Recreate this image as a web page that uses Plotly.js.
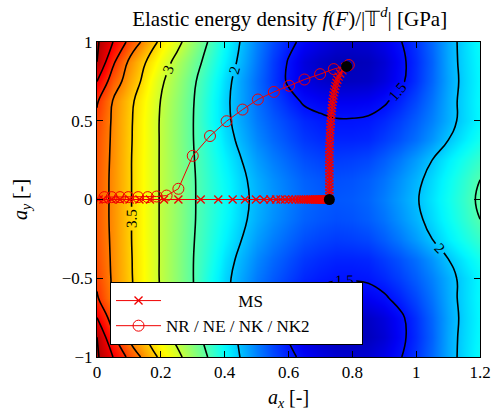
<!DOCTYPE html>
<html>
<head>
<meta charset="utf-8">
<script src="https://cdn.plot.ly/plotly-3.0.1.min.js"></script>
<style>html,body{margin:0;padding:0;background:#fff;}#chart{width:491px;height:415px;}</style>
</head>
<body>
<div id="chart"></div>
<script>
// grid of the energy field
const gridX = [0,0.05,0.10,0.15,0.20,0.25,0.30,0.35,0.40,0.45,0.50,0.55,0.60,0.65,0.70,0.75,0.80,0.85,0.90,0.95,1.00,1.05,1.10,1.15,1.20];
const gridY = [-1,-0.875,-0.75,-0.625,-0.5,-0.375,-0.25,-0.125,0,0.125,0.25,0.375,0.5,0.625,0.75,0.875,1];
const energy = [
 [5.57,5.00,4.39,3.86,3.40,3.11,2.78,2.48,2.21,1.99,1.80,1.65,1.54,1.46,1.41,1.37,1.36,1.37,1.42,1.49,1.59,1.73,1.91,2.07,2.21],
 [5.50,4.59,3.94,3.52,3.20,2.90,2.64,2.39,2.15,1.95,1.77,1.61,1.49,1.39,1.34,1.31,1.31,1.32,1.37,1.46,1.57,1.71,1.91,2.06,2.19],
 [5.00,4.26,3.79,3.39,3.05,2.81,2.55,2.32,2.08,1.90,1.74,1.60,1.48,1.40,1.36,1.33,1.33,1.34,1.39,1.47,1.58,1.72,1.90,2.05,2.18],
 [4.55,3.98,3.60,3.29,2.99,2.76,2.52,2.28,2.05,1.90,1.75,1.64,1.55,1.48,1.45,1.43,1.43,1.44,1.48,1.55,1.64,1.76,1.92,2.06,2.19],
 [4.40,3.94,3.57,3.26,2.97,2.74,2.51,2.27,2.06,1.91,1.78,1.69,1.62,1.56,1.53,1.51,1.51,1.52,1.56,1.62,1.70,1.80,1.93,2.06,2.18],
 [4.33,3.93,3.56,3.26,2.97,2.74,2.51,2.31,2.10,1.95,1.82,1.73,1.66,1.60,1.57,1.55,1.55,1.56,1.61,1.67,1.75,1.86,2.00,2.13,2.26],
 [4.29,3.92,3.55,3.25,2.97,2.75,2.52,2.34,2.16,2.01,1.88,1.79,1.72,1.66,1.63,1.61,1.62,1.64,1.70,1.78,1.88,2.00,2.14,2.27,2.39],
 [4.27,3.91,3.55,3.25,2.97,2.76,2.53,2.36,2.20,2.05,1.93,1.84,1.77,1.71,1.68,1.66,1.67,1.70,1.76,1.85,1.95,2.07,2.21,2.35,2.50],
 [4.27,3.91,3.55,3.25,2.97,2.76,2.53,2.37,2.22,2.06,1.95,1.86,1.79,1.73,1.70,1.68,1.69,1.72,1.79,1.88,1.98,2.10,2.24,2.38,2.55],
 [4.27,3.91,3.55,3.25,2.97,2.76,2.53,2.36,2.20,2.05,1.93,1.84,1.77,1.71,1.68,1.66,1.67,1.70,1.76,1.85,1.95,2.07,2.21,2.35,2.50],
 [4.29,3.92,3.55,3.25,2.97,2.75,2.52,2.34,2.16,2.01,1.88,1.79,1.72,1.66,1.63,1.61,1.62,1.64,1.70,1.78,1.88,2.00,2.14,2.27,2.39],
 [4.33,3.93,3.56,3.26,2.97,2.74,2.51,2.31,2.10,1.95,1.82,1.73,1.66,1.60,1.57,1.55,1.55,1.56,1.61,1.67,1.75,1.86,2.00,2.13,2.26],
 [4.40,3.94,3.57,3.26,2.97,2.74,2.51,2.27,2.06,1.91,1.78,1.69,1.62,1.56,1.53,1.51,1.51,1.52,1.56,1.62,1.70,1.80,1.93,2.06,2.18],
 [4.55,3.98,3.60,3.29,2.99,2.76,2.52,2.28,2.05,1.90,1.75,1.64,1.55,1.48,1.45,1.43,1.43,1.44,1.48,1.55,1.64,1.76,1.92,2.06,2.19],
 [5.00,4.26,3.79,3.39,3.05,2.81,2.55,2.32,2.08,1.90,1.74,1.60,1.48,1.40,1.36,1.33,1.33,1.34,1.39,1.47,1.58,1.72,1.90,2.05,2.18],
 [5.50,4.59,3.94,3.52,3.20,2.90,2.64,2.39,2.15,1.95,1.77,1.61,1.49,1.39,1.34,1.31,1.31,1.32,1.37,1.46,1.57,1.71,1.91,2.06,2.19],
 [5.57,5.00,4.39,3.86,3.40,3.11,2.78,2.48,2.21,1.99,1.80,1.65,1.54,1.46,1.41,1.37,1.36,1.37,1.42,1.49,1.59,1.73,1.91,2.07,2.21]
];

// MS iterates
const msX = [0.005,0.02,0.046,0.072,0.102,0.133,0.166,0.210,0.255,0.325,0.380,0.425,0.464,0.498,0.523,0.543,0.561,0.575,0.589,0.601,0.612,0.622,0.632,0.640,0.648,0.655,0.661,0.667,0.672,0.678,0.683,0.687,0.691,0.695,0.698,0.701,0.704,0.707,0.709,0.711,0.713,0.715,0.717,0.720,0.721,0.723,0.724,0.725,0.726,0.727,0.728,
  0.728,0.728,0.728,0.728,0.728,0.728,0.728,0.728,0.728,0.728,0.728,0.728,0.728,0.728,0.728,0.728,0.729,0.729,0.729,0.730,0.730,0.731,0.731,0.732,0.733,0.733,0.734,0.735,0.736,0.737,0.738,0.740,0.741,0.743,0.745,0.747,0.750,0.753,0.757,0.762,0.769,0.778,0.782];
const msY = [0,0,0,0,0,0,0,0,0,0,0,0,0,0,0,0,0,0,0,0,0,0,0,0,0,0,0,0,0,0,0,0,0,0,0,0,0,0,0,0,0,0,0,0,0,0,0,0,0,0,0,
  0.02,0.04,0.06,0.08,0.10,0.12,0.14,0.16,0.18,0.20,0.22,0.24,0.26,0.28,0.30,0.32,0.34,0.36,0.38,0.40,0.42,0.44,0.46,0.48,0.50,0.52,0.54,0.56,0.58,0.60,0.62,0.64,0.66,0.68,0.70,0.72,0.74,0.76,0.78,0.80,0.82,0.84,0.845];

// NR / NE / NK / NK2 iterates
const nrX = [0.023,0.046,0.072,0.098,0.129,0.159,0.187,0.218,0.255,0.300,0.354,0.406,0.456,0.504,0.554,0.602,0.650,0.699,0.742,0.789];
const nrY = [0.015,0.015,0.015,0.015,0.015,0.015,0.019,0.025,0.068,0.277,0.403,0.497,0.571,0.635,0.683,0.722,0.762,0.796,0.828,0.854];

// end points (black dots)
const dotX = [0.728,0.782];
const dotY = [0,0.845];

// tick labels
const xTicks = [0,0.2,0.4,0.6,0.8,1,1.2];
const xTickText = ['0','0.2','0.4','0.6','0.8','1','1.2'];
const yTicks = [-1,-0.5,0,0.5,1];
const yTickText = ['\u22121','\u22120.5','0','0.5','1'];

const seriesNames = ['\u00a0'.repeat(17)+'MS', 'NR / NE / NK / NK2'+'\u00a0'.repeat(11)];

// jet colours spread logarithmically over the energy range
const zLo = 1.2, zHi = 6.0;
function jetAt(t){
  const stops=[[0,[0,0,128]],[0.125,[0,0,255]],[0.375,[0,255,255]],[0.625,[255,255,0]],[0.875,[255,0,0]],[1,[128,0,0]]];
  t=Math.max(0,Math.min(1,t));
  for(let i=1;i<stops.length;i++){
    if(t<=stops[i][0]){
      const a=stops[i-1], b=stops[i], f=(t-a[0])/(b[0]-a[0]);
      const c=a[1].map((v,k)=>Math.round(v+(b[1][k]-v)*f));
      return 'rgb('+c.join(',')+')';
    }
  }
  return 'rgb(128,0,0)';
}
const colorscale=[];
for(let i=0;i<=60;i++){
  const f=i/60, v=zLo+f*(zHi-zLo);
  colorscale.push([f, jetAt(Math.log(v/zLo)/Math.log(zHi/zLo))]);
}
const serif = 'Liberation Serif';

const traces = [
  {type:'heatmap', x:gridX, y:gridY, z:energy, zsmooth:'best', colorscale:colorscale, zmin:zLo, zmax:zHi, showscale:false, hoverinfo:'skip', showlegend:false},
  {type:'contour', x:gridX, y:gridY, z:energy, showscale:false, hoverinfo:'skip', showlegend:false,
   contours:{start:1.5, end:6, size:0.5, coloring:'none', showlabels:true, labelfont:{family:serif, size:15, color:'black'}},
   line:{color:'black', width:1.6, smoothing:1.3}},
  {type:'scatter', mode:'lines+markers', x:msX, y:msY, name:seriesNames[0], legendgroup:'a',
   line:{color:'rgb(240,0,0)', width:1}, marker:{symbol:'x-thin-open', size:8, color:'rgb(240,0,0)', line:{color:'rgb(240,0,0)', width:1.3}}},
  {type:'scatter', mode:'lines+markers', x:nrX, y:nrY, name:seriesNames[1], legendgroup:'b',
   line:{color:'rgb(240,0,0)', width:1}, marker:{symbol:'circle-open', size:11, color:'rgb(240,0,0)', line:{color:'rgb(240,0,0)', width:1}}},
  {type:'scatter', mode:'markers', x:dotX, y:dotY, showlegend:false, marker:{color:'black', size:11}}
];

const axisCommon = {showline:true, linecolor:'black', linewidth:1, mirror:'ticks', ticks:'inside', ticklen:6, tickcolor:'black',
  showgrid:false, zeroline:false, tickfont:{family:serif, size:17, color:'black'}, tickmode:'array', ticklabeloverflow:'allow'};

const layout = {
  width:491, height:415,
  margin:{l:97, r:11, t:42, b:58},
  paper_bgcolor:'white', plot_bgcolor:'white',
  font:{family:serif, color:'black'},
  title:{text:'Elastic energy density <i>f</i>(<i>F</i>)/|𝕋<sup><i>d</i></sup>| [GPa]', font:{family:serif, size:21, color:'black'}, x:0.59, xanchor:'center', y:0.955, yanchor:'middle'},
  xaxis:Object.assign({}, axisCommon, {range:[0,1.2], tickvals:xTicks, ticktext:xTickText,
    title:{text:'<i>a</i><sub><i>x</i></sub> [-]', font:{family:serif, size:20, color:'black'}, standoff:8}}),
  yaxis:Object.assign({}, axisCommon, {range:[-1,1], tickvals:yTicks, ticktext:yTickText,
    title:{text:'<i>a</i><sub><i>y</i></sub> [-]', font:{family:serif, size:20, color:'black'}, standoff:28}}),
  showlegend:true,
  legend:{x:0.034, y:0.238, xanchor:'left', yanchor:'top', bgcolor:'white', bordercolor:'black', borderwidth:1,
    font:{family:serif, size:17, color:'black'}, tracegroupgap:0, traceorder:'grouped', itemwidth:45}
};

Plotly.newPlot('chart', traces, layout, {displayModeBar:false, staticPlot:true});
</script>
</body>
</html>
